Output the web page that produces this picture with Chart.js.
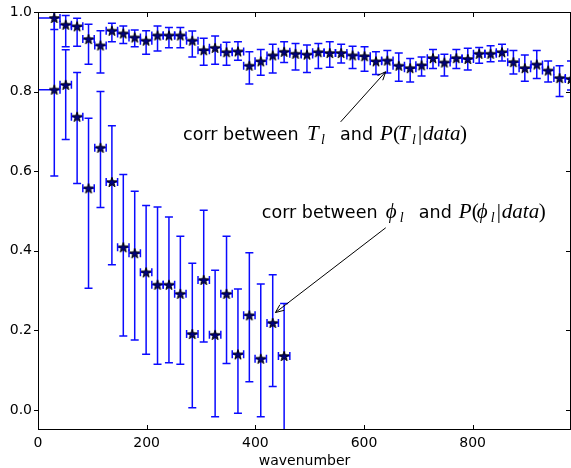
<!DOCTYPE html>
<html>
<head>
<meta charset="utf-8">
<script src="https://cdn.jsdelivr.net/npm/chart.js@4.4.0/dist/chart.umd.min.js"></script>
<style>
  html, body { margin: 0; padding: 0; background: #fff; overflow: hidden; }
</style>
</head>
<body>
<!-- canvas is 4px wider than the window: Chart.js keeps a 4px point margin on the right -->
<canvas id="myChart" width="575" height="468"></canvas>
<script>
// wavenumber bin centres (shared by both series)
var wavenumber = [30, 51, 72, 93, 115, 136, 157, 178, 199, 220, 241, 262, 284, 305, 326, 347,
                  368, 389, 410, 432, 453, 474, 495, 516, 537, 558, 579, 601, 622, 643, 664, 685,
                  706, 727, 748, 770, 791, 812, 833, 854, 875, 896, 918, 939, 960, 981];
var binHalf = 10.5;
var firstBinStart = 0;

// corr between T_l and P(T_l|data)
var corrT = [0.985, 0.968, 0.964, 0.932, 0.916, 0.953, 0.946, 0.936, 0.928, 0.941, 0.941, 0.941,
             0.928, 0.904, 0.910, 0.899, 0.901, 0.865, 0.876, 0.891, 0.900, 0.895, 0.893, 0.899,
             0.897, 0.897, 0.891, 0.889, 0.876, 0.878, 0.865, 0.859, 0.866, 0.884, 0.873, 0.884,
             0.882, 0.895, 0.895, 0.899, 0.874, 0.859, 0.868, 0.853, 0.834, 0.832];
var corrTHi = [1.012, 0.991, 0.984, 0.969, 0.953, 0.972, 0.965, 0.955, 0.953, 0.965, 0.961, 0.961,
               0.952, 0.934, 0.940, 0.924, 0.925, 0.900, 0.906, 0.919, 0.925, 0.921, 0.917, 0.921,
               0.925, 0.919, 0.914, 0.913, 0.900, 0.903, 0.897, 0.883, 0.887, 0.906, 0.894, 0.906,
               0.909, 0.911, 0.915, 0.919, 0.903, 0.892, 0.903, 0.877, 0.865, 0.877];
var corrTLo = [0.956, 0.913, 0.914, 0.869, 0.847, 0.925, 0.921, 0.913, 0.894, 0.902, 0.910, 0.910,
               0.887, 0.866, 0.869, 0.866, 0.879, 0.819, 0.841, 0.847, 0.873, 0.854, 0.848, 0.858,
               0.861, 0.872, 0.858, 0.851, 0.843, 0.847, 0.826, 0.824, 0.839, 0.858, 0.839, 0.858,
               0.854, 0.871, 0.875, 0.877, 0.844, 0.826, 0.833, 0.824, 0.788, 0.804];

// corr between phi_l and P(phi_l|data)
var corrPhi = [0.805, 0.817, 0.737, 0.557, 0.659, 0.573, 0.409, 0.394, 0.346, 0.315, 0.315,
               0.292, 0.191, 0.327, 0.189, 0.292, 0.140, 0.238, 0.129, 0.219, 0.136];
var corrPhiHi = [1.02, 0.905, 0.848, 0.733, 0.800, 0.714, 0.592, 0.550, 0.514, 0.510, 0.485,
                 0.437, 0.369, 0.502, 0.351, 0.437, 0.304, 0.395, 0.317, 0.340, 0.268];
var corrPhiLo = [0.588, 0.680, 0.569, 0.306, 0.509, 0.365, 0.186, 0.176, 0.140, 0.115, 0.119,
                 0.115, 0.006, 0.171, -0.017, 0.117, -0.008, 0.071, -0.017, 0.059, -0.10];

var xTicks = [0, 200, 400, 600, 800];
var yTicks = [0.0, 0.2, 0.4, 0.6, 0.8, 1.0];

var barColor = '#0a0aff';
var fontSans = '"DejaVu Sans", sans-serif';

// filled star used as the point marker
function makeStar(r) {
    var c = document.createElement('canvas');
    var s = 14;
    c.width = c.height = s;
    var g = c.getContext('2d');
    g.translate(s / 2, s / 2 + r * 0.1);
    g.beginPath();
    for (var k = 0; k < 10; k++) {
        var rad = k % 2 ? r * 0.4 : r;
        var ang = -Math.PI / 2 + k * Math.PI / 5;
        g.lineTo(rad * Math.cos(ang), rad * Math.sin(ang));
    }
    g.closePath();
    g.fillStyle = '#00007f';
    g.fill();
    g.lineWidth = 1;
    g.strokeStyle = '#000';
    g.stroke();
    return c;
}
var star = makeStar(5.2);

function points(vals) {
    return vals.map(function (v, i) { return { x: wavenumber[i], y: v }; });
}

// error bars drawn under the markers
var errorBars = {
    id: 'errorBars',
    beforeDatasetsDraw: function (chart) {
        var ctx = chart.ctx, xs = chart.scales.x, ys = chart.scales.y, a = chart.chartArea;
        ctx.save();
        ctx.beginPath();
        ctx.rect(a.left, a.top, a.right - a.left, a.bottom - a.top);
        ctx.clip();
        ctx.strokeStyle = barColor;
        ctx.lineWidth = 1.5;
        chart.data.datasets.forEach(function (ds) {
            ds.data.forEach(function (p, i) {
                var px = xs.getPixelForValue(p.x), py = ys.getPixelForValue(p.y);
                var yTop = ys.getPixelForValue(ds.errHi[i]), yBot = ys.getPixelForValue(ds.errLo[i]);
                var xL = xs.getPixelForValue(i === 0 ? firstBinStart : p.x - binHalf);
                var xR = xs.getPixelForValue(p.x + binHalf);
                ctx.beginPath();
                ctx.moveTo(px, yTop); ctx.lineTo(px, yBot);
                ctx.moveTo(px - 4, yTop); ctx.lineTo(px + 4, yTop);
                ctx.moveTo(px - 4, yBot); ctx.lineTo(px + 4, yBot);
                ctx.moveTo(xL, py); ctx.lineTo(xR, py);
                ctx.moveTo(xL, py - 4); ctx.lineTo(xL, py + 4);
                ctx.moveTo(xR, py - 4); ctx.lineTo(xR, py + 4);
                ctx.stroke();
            });
        });
        ctx.restore();
    }
};

// frame and tick marks
var frame = {
    id: 'frame',
    afterDraw: function (chart) {
        var ctx = chart.ctx, a = chart.chartArea, xs = chart.scales.x, ys = chart.scales.y;
        ctx.save();
        ctx.strokeStyle = '#000';
        ctx.lineWidth = 1;
        ctx.strokeRect(a.left + 0.5, a.top + 0.5, a.right - a.left - 1, a.bottom - a.top - 1);
        ctx.beginPath();
        xs.ticks.forEach(function (t) {
            var x = Math.round(xs.getPixelForValue(t.value)) + 0.5;
            ctx.moveTo(x, a.bottom); ctx.lineTo(x, a.bottom - 5);
            ctx.moveTo(x, a.top); ctx.lineTo(x, a.top + 5);
        });
        ys.ticks.forEach(function (t) {
            var y = Math.round(ys.getPixelForValue(t.value)) + 0.5;
            ctx.moveTo(a.left - 4, y); ctx.lineTo(a.left, y);
            ctx.moveTo(a.right, y); ctx.lineTo(a.right - 5, y);
        });
        ctx.stroke();
        ctx.restore();
    }
};

// annotation text (with math parts) and arrows, anchored in data coordinates
var notes = [
    { x: 267, y: 0.678, tail: [557, 0.724], head: [640, 0.850], sym: 'T' },
    { x: 412, y: 0.483, tail: [640, 0.458], head: [437, 0.245], sym: '\u03d5' }
];

var annotations = {
    id: 'annotations',
    afterDraw: function (chart) {
        var ctx = chart.ctx, xs = chart.scales.x, ys = chart.scales.y;
        var sans = '17.5px ' + fontSans;
        var mi = 'italic 21px "Liberation Serif"';
        var sub = 'italic 14px "Liberation Serif"';
        var rm = '21px "Liberation Serif"';
        ctx.save();
        ctx.fillStyle = '#000';
        ctx.strokeStyle = '#000';
        ctx.textBaseline = 'alphabetic';
        notes.forEach(function (n) {
            var x0 = xs.getPixelForValue(n.x), y0 = ys.getPixelForValue(n.y);
            // [text, font, x offset, baseline shift]
            [
                ['corr between', sans, 0, 0],
                [n.sym, mi, 124, 0],
                ['l', sub, 138, 4],
                ['and', sans, 157, 0],
                ['P', mi, 197, 0],
                ['(', rm, 210, 0],
                [n.sym, mi, 215, 0],
                ['l', sub, 229, 4],
                ['|', rm, 235, 0],
                ['data', mi, 240, 0],
                [')', rm, 277, 0]
            ].forEach(function (p) {
                ctx.font = p[1];
                ctx.fillText(p[0], x0 + p[2], y0 + p[3]);
            });
            var ax = xs.getPixelForValue(n.tail[0]), ay = ys.getPixelForValue(n.tail[1]);
            var hx = xs.getPixelForValue(n.head[0]), hy = ys.getPixelForValue(n.head[1]);
            var ang = Math.atan2(hy - ay, hx - ax);
            ctx.lineWidth = 1;
            ctx.beginPath();
            ctx.moveTo(ax, ay); ctx.lineTo(hx, hy);
            ctx.moveTo(hx - 9 * Math.cos(ang - 0.4), hy - 9 * Math.sin(ang - 0.4));
            ctx.lineTo(hx, hy);
            ctx.lineTo(hx - 9 * Math.cos(ang + 0.4), hy - 9 * Math.sin(ang + 0.4));
            ctx.stroke();
        });
        ctx.restore();
    }
};

new Chart(document.getElementById('myChart'), {
    type: 'scatter',
    data: {
        datasets: [
            { label: 'T', data: points(corrT), errHi: corrTHi, errLo: corrTLo,
              pointStyle: star, pointRadius: 0.1, pointBorderWidth: 0, showLine: false },
            { label: 'phi', data: points(corrPhi), errHi: corrPhiHi, errLo: corrPhiLo,
              pointStyle: star, pointRadius: 0.1, pointBorderWidth: 0, showLine: false }
        ]
    },
    options: {
        responsive: false,
        animation: false,
        events: [],
        layout: { padding: { top: 12, right: 0, left: 0, bottom: 0 } },
        plugins: { legend: { display: false }, tooltip: { enabled: false } },
        scales: {
            x: {
                type: 'linear', min: 0, max: 981,
                afterBuildTicks: function (s) { s.ticks = xTicks.map(function (v) { return { value: v }; }); },
                afterFit: function (s) { s.height = 38; s.paddingLeft = 0; s.paddingRight = 0; },
                grid: { display: false, drawTicks: false },
                border: { display: false },
                ticks: { color: '#000', font: { family: fontSans, size: 14 }, padding: 5,
                         autoSkip: false, maxRotation: 0,
                         callback: function (v) { return String(v); } },
                title: { display: true, text: 'wavenumber', color: '#000',
                         font: { family: fontSans, size: 14, lineHeight: 1 },
                         padding: { top: 0, bottom: 0 } }
            },
            y: {
                type: 'linear', min: -0.05, max: 1.0,
                afterBuildTicks: function (s) { s.ticks = yTicks.map(function (v) { return { value: v }; }); },
                afterFit: function (s) { s.width = 38; s.paddingTop = 0; s.paddingBottom = 0; },
                grid: { display: false, drawTicks: false },
                border: { display: false },
                ticks: { color: '#000', font: { family: fontSans, size: 14 }, padding: 6,
                         autoSkip: false,
                         callback: function (v) { return v.toFixed(1); } }
            }
        }
    },
    plugins: [errorBars, frame, annotations]
});
</script>
</body>
</html>
